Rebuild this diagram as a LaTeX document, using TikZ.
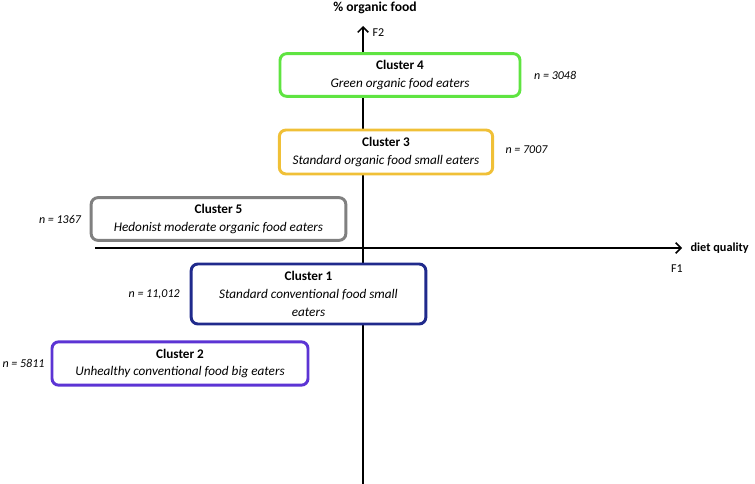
\documentclass[tikz,border=0pt]{standalone}
\usepackage{fontspec}
\setmainfont{Carlito}
\usepackage{xcolor}
\usetikzlibrary{arrows.meta,positioning}

\definecolor{clgreen}{RGB}{95,228,65}
\definecolor{clgold}{RGB}{240,192,55}
\definecolor{clgray}{RGB}{128,128,128}
\definecolor{clnavy}{RGB}{32,42,140}
\definecolor{clviolet}{RGB}{92,52,212}

\begin{document}
\begin{tikzpicture}[x=0.75pt,y=-0.75pt,
  axis/.style={line width=1.1pt,-{Straight Barb[length=4pt,width=8pt,line width=1.1pt]}},
  cluster/.style={draw=#1,line width=2.2pt,rounded corners=5pt,fill=white,align=center,
    inner sep=0pt,font=\fontsize{9.9}{13.2}\selectfont},
  count/.style={font=\fontsize{9}{11}\selectfont\itshape},
  axlabel/.style={font=\fontsize{10.2}{12}\selectfont\bfseries},
  tick/.style={font=\fontsize{9}{10}\selectfont}]
             \useasboundingbox (0,0) rectangle (755,484);

             % axes
             \coordinate (ybot) at (363,484);
             \coordinate (ytop) at (363,26);
             \coordinate (xleft) at (95,248);
             \coordinate (xright) at (682,248);
             \draw[axis] (ybot) -- (ytop);
             \draw[axis] (xleft) -- (xright);

             \node[axlabel] (ytitle) at (375,8) {\% organic food};
             \node[tick,anchor=west] (f2) at (368,33) {F2};
             \node[axlabel,font=\fontsize{9.2}{11}\selectfont\bfseries,anchor=west,inner sep=1pt]
                  (xtitle) at (689,248) {diet quality};
             \node[tick] (f1) at (677,269) {F1};

             % clusters
             \node[cluster=clgreen,minimum width=180pt,minimum height=32pt] (c4) at (400,75)
                  {\textbf{Cluster 4}\\\textit{Green organic food eaters}};
             \node[cluster=clgold,minimum width=160pt,minimum height=33pt] (c3) at (386,152)
                  {\textbf{Cluster 3}\\\textit{Standard organic food small eaters}};
             \node[cluster=clgray,minimum width=191pt,minimum height=32pt] (c5) at (218.5,219)
                  {\textbf{Cluster 5}\\\textit{Hedonist moderate organic food eaters}};
             \node[cluster=clnavy,minimum width=176pt,minimum height=45pt] (c1) at (308.5,294)
                  {\textbf{Cluster 1}\\\textit{Standard conventional food small}\\\textit{eaters}};
             \node[cluster=clviolet,minimum width=192pt,minimum height=32.5pt] (c2) at (180,363.5)
                  {\textbf{Cluster 2}\\\textit{Unhealthy conventional food big eaters}};

             % sizes
             \node[count,right=6pt of c4] (n4) {n = 3048};
             \node[count,right=5pt of c3,yshift=1.5pt] (n3) {n = 7007};
             \node[count,left=3pt of c5] (n5) {n = 1367};
             \node[count,left=4pt of c1] (n1) {n = 11,012};
             \node[count,left=1pt of c2] (n2) {n = 5811};
\end{tikzpicture}
\end{document}
